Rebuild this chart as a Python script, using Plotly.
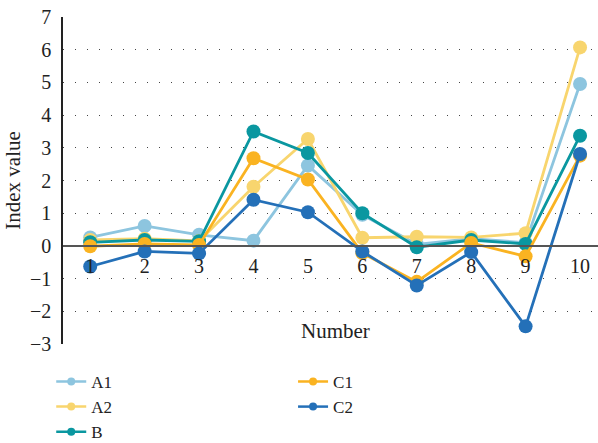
import plotly.graph_objects as go

numbers = [1, 2, 3, 4, 5, 6, 7, 8, 9, 10]
a1 = [0.26, 0.61, 0.34, 0.16, 2.46, 0.95, 0.05, 0.22, 0.10, 4.95]
a2 = [0.18, 0.22, 0.15, 1.81, 3.27, 0.25, 0.28, 0.26, 0.39, 6.07]
b = [0.11, 0.18, 0.14, 3.50, 2.84, 1.00, -0.04, 0.18, 0.06, 3.37]
c1 = [-0.01, 0.06, 0.03, 2.68, 2.03, -0.22, -1.10, 0.09, -0.32, 2.76]
c2 = [-0.63, -0.17, -0.23, 1.41, 1.03, -0.17, -1.21, -0.19, -2.46, 2.81]

series = [
    ("A1", a1, "#8DC5DF", "legend"),
    ("A2", a2, "#F8D56E", "legend"),
    ("B", b, "#0A97A0", "legend"),
    ("C1", c1, "#FAB321", "legend2"),
    ("C2", c2, "#2470B8", "legend2"),
]

y_ticks = [-3, -2, -1, 0, 1, 2, 3, 4, 5, 6, 7]
serif = "Liberation Serif, DejaVu Serif, serif"
ink = "#222222"

fig = go.Figure()
for name, vals, color, leg in series:
    fig.add_trace(go.Scatter(
        x=numbers, y=vals, mode="lines+markers", name=name,
        line=dict(color=color, width=2.8),
        marker=dict(color=color, size=14),
        showlegend=False,
    ))
# compact legend entries with smaller markers
for name, vals, color, leg in series:
    fig.add_trace(go.Scatter(
        x=[None], y=[None], mode="lines+markers", name=name,
        line=dict(color=color, width=2.5),
        marker=dict(color=color, size=8),
        legend=leg,
    ))

fig.update_layout(
    width=598, height=443,
    margin=dict(l=63, r=0, t=17, b=99, autoexpand=False),
    plot_bgcolor="white", paper_bgcolor="white",
    font=dict(family=serif, size=20, color=ink),
    xaxis=dict(
        range=[0.5, 10.33], tickvals=numbers, ticktext=[str(n) for n in numbers],
        anchor="free", position=0.3, showline=True, linecolor="#555", linewidth=1.5,
        showgrid=False, zeroline=False, ticks="outside", ticklen=2,
        tickcolor="rgba(0,0,0,0)",
        tickfont=dict(family=serif, size=20, color=ink),
    ),
    yaxis=dict(
        range=[-3, 7], tickvals=y_ticks, showline=True, linecolor="#222", linewidth=1.5,
        showgrid=True, gridcolor="#444", griddash="1px,11px", gridwidth=1,
        zeroline=False, ticks="outside", ticklen=6, tickcolor="rgba(0,0,0,0)",
        title=dict(text="Index value", standoff=4, font=dict(family=serif, size=21, color=ink)),
        tickfont=dict(family=serif, size=20, color=ink),
    ),
    legend=dict(x=-0.022, y=-0.061, xanchor="left", yanchor="top",
                font=dict(family=serif, size=17, color=ink), tracegroupgap=0,
                bgcolor="rgba(0,0,0,0)"),
    legend2=dict(x=0.43, y=-0.061, xanchor="left", yanchor="top",
                 font=dict(family=serif, size=17, color=ink), tracegroupgap=0,
                 bgcolor="rgba(0,0,0,0)"),
    annotations=[dict(x=5.5, y=-2.59, xref="x", yref="y", text="Number",
                      showarrow=False, font=dict(family=serif, size=21, color=ink))],
)

fig.write_html("out.html")
